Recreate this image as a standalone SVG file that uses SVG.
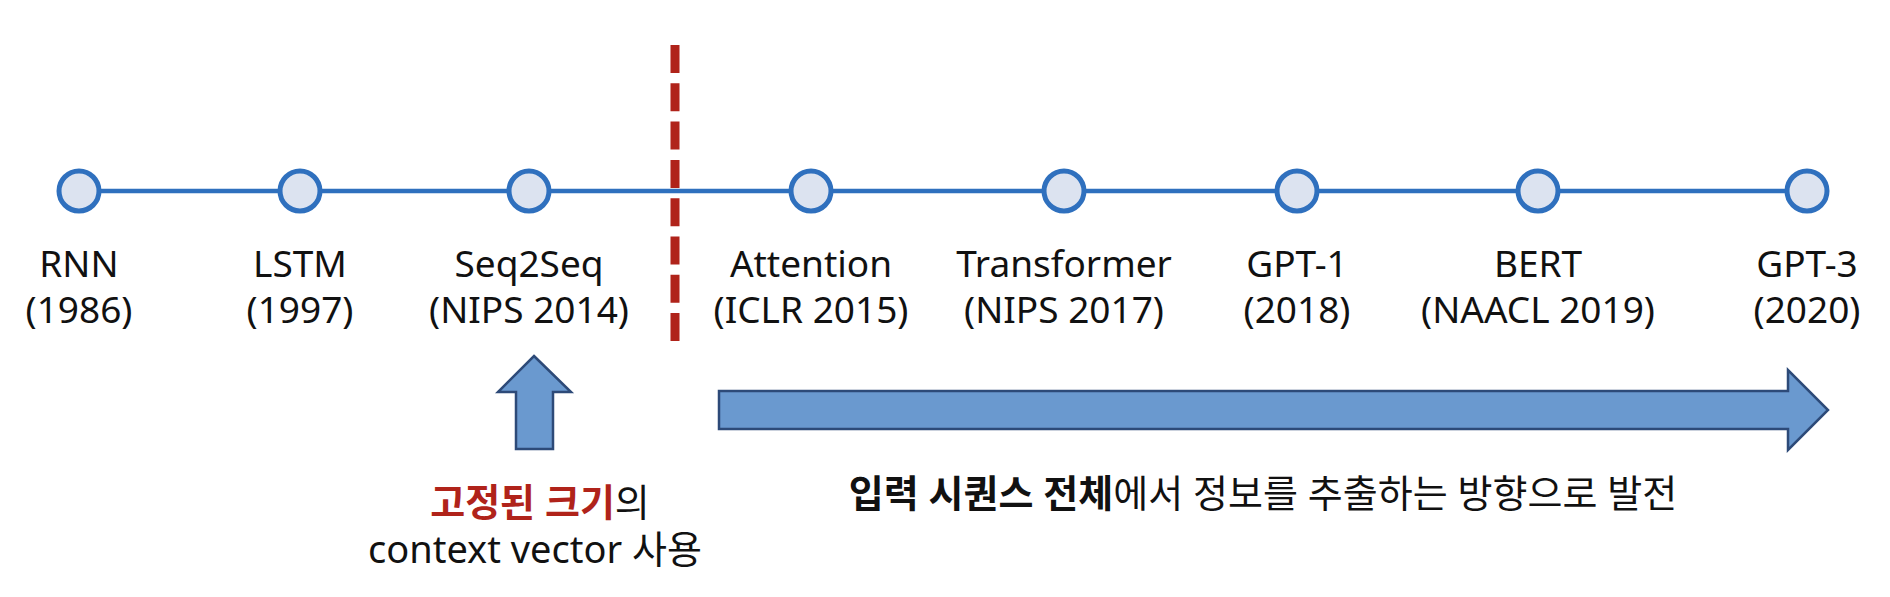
<svg xmlns="http://www.w3.org/2000/svg" width="1890" height="597" viewBox="0 0 1890 597">
<style>
.node circle{fill:#DCE3F0;stroke:#2F70BE;stroke-width:5}
.lbl{font-family:"Noto Sans","Noto Sans CJK KR",sans-serif;font-size:37px;fill:#111;text-anchor:middle}
.kr{font-family:"Noto Sans","Noto Sans CJK KR",sans-serif;font-size:38px;fill:#111}
.arrow{fill:#6A99CF;stroke:#2D4A78;stroke-width:2.5;stroke-linejoin:miter}
</style>
<rect width="1890" height="597" fill="#fff"/>
<g id="connectors">
<line x1="79" y1="191" x2="1807" y2="191" stroke="#2F70BE" stroke-width="4.5"/>
<line id="divider" x1="675" y1="45" x2="675" y2="343" stroke="#B0231A" stroke-width="9" stroke-dasharray="28 10.3"/>
</g>
<g id="n-rnn" class="node"><circle cx="79" cy="191" r="20"/><text class="lbl" x="79" y="277">RNN</text><text class="lbl" x="79" y="323">(1986)</text></g>
<g id="n-lstm" class="node"><circle cx="300" cy="191" r="20"/><text class="lbl" x="300" y="277">LSTM</text><text class="lbl" x="300" y="323">(1997)</text></g>
<g id="n-seq2seq" class="node"><circle cx="529" cy="191" r="20"/><text class="lbl" x="529" y="277">Seq2Seq</text><text class="lbl" x="529" y="323">(NIPS 2014)</text></g>
<g id="n-attention" class="node"><circle cx="811" cy="191" r="20"/><text class="lbl" x="811" y="277">Attention</text><text class="lbl" x="811" y="323">(ICLR 2015)</text></g>
<g id="n-transformer" class="node"><circle cx="1064" cy="191" r="20"/><text class="lbl" x="1064" y="277">Transformer</text><text class="lbl" x="1064" y="323">(NIPS 2017)</text></g>
<g id="n-gpt1" class="node"><circle cx="1297" cy="191" r="20"/><text class="lbl" x="1297" y="277">GPT-1</text><text class="lbl" x="1297" y="323">(2018)</text></g>
<g id="n-bert" class="node"><circle cx="1538" cy="191" r="20"/><text class="lbl" x="1538" y="277">BERT</text><text class="lbl" x="1538" y="323">(NAACL 2019)</text></g>
<g id="n-gpt3" class="node"><circle cx="1807" cy="191" r="20"/><text class="lbl" x="1807" y="277">GPT-3</text><text class="lbl" x="1807" y="323">(2020)</text></g>
<g id="up-arrow">
<polygon class="arrow" points="534,356 571,392 553,392 553,449 516,449 516,392 498,392"/>
<text class="kr" x="540" y="516" text-anchor="middle" font-size="40"><tspan fill="#B0231A" font-weight="bold">고정된 크기</tspan>의</text>
<text class="kr" x="535" y="563" text-anchor="middle">context vector 사용</text>
</g>
<g id="right-arrow">
<polygon class="arrow" points="719,391 1788,391 1788,370 1828,410 1788,450 1788,429 719,429"/>
<text class="kr" x="1263" y="507" text-anchor="middle"><tspan font-weight="bold">입력 시퀀스 전체</tspan>에서 정보를 추출하는 방향으로 발전</text>
</g>
</svg>
